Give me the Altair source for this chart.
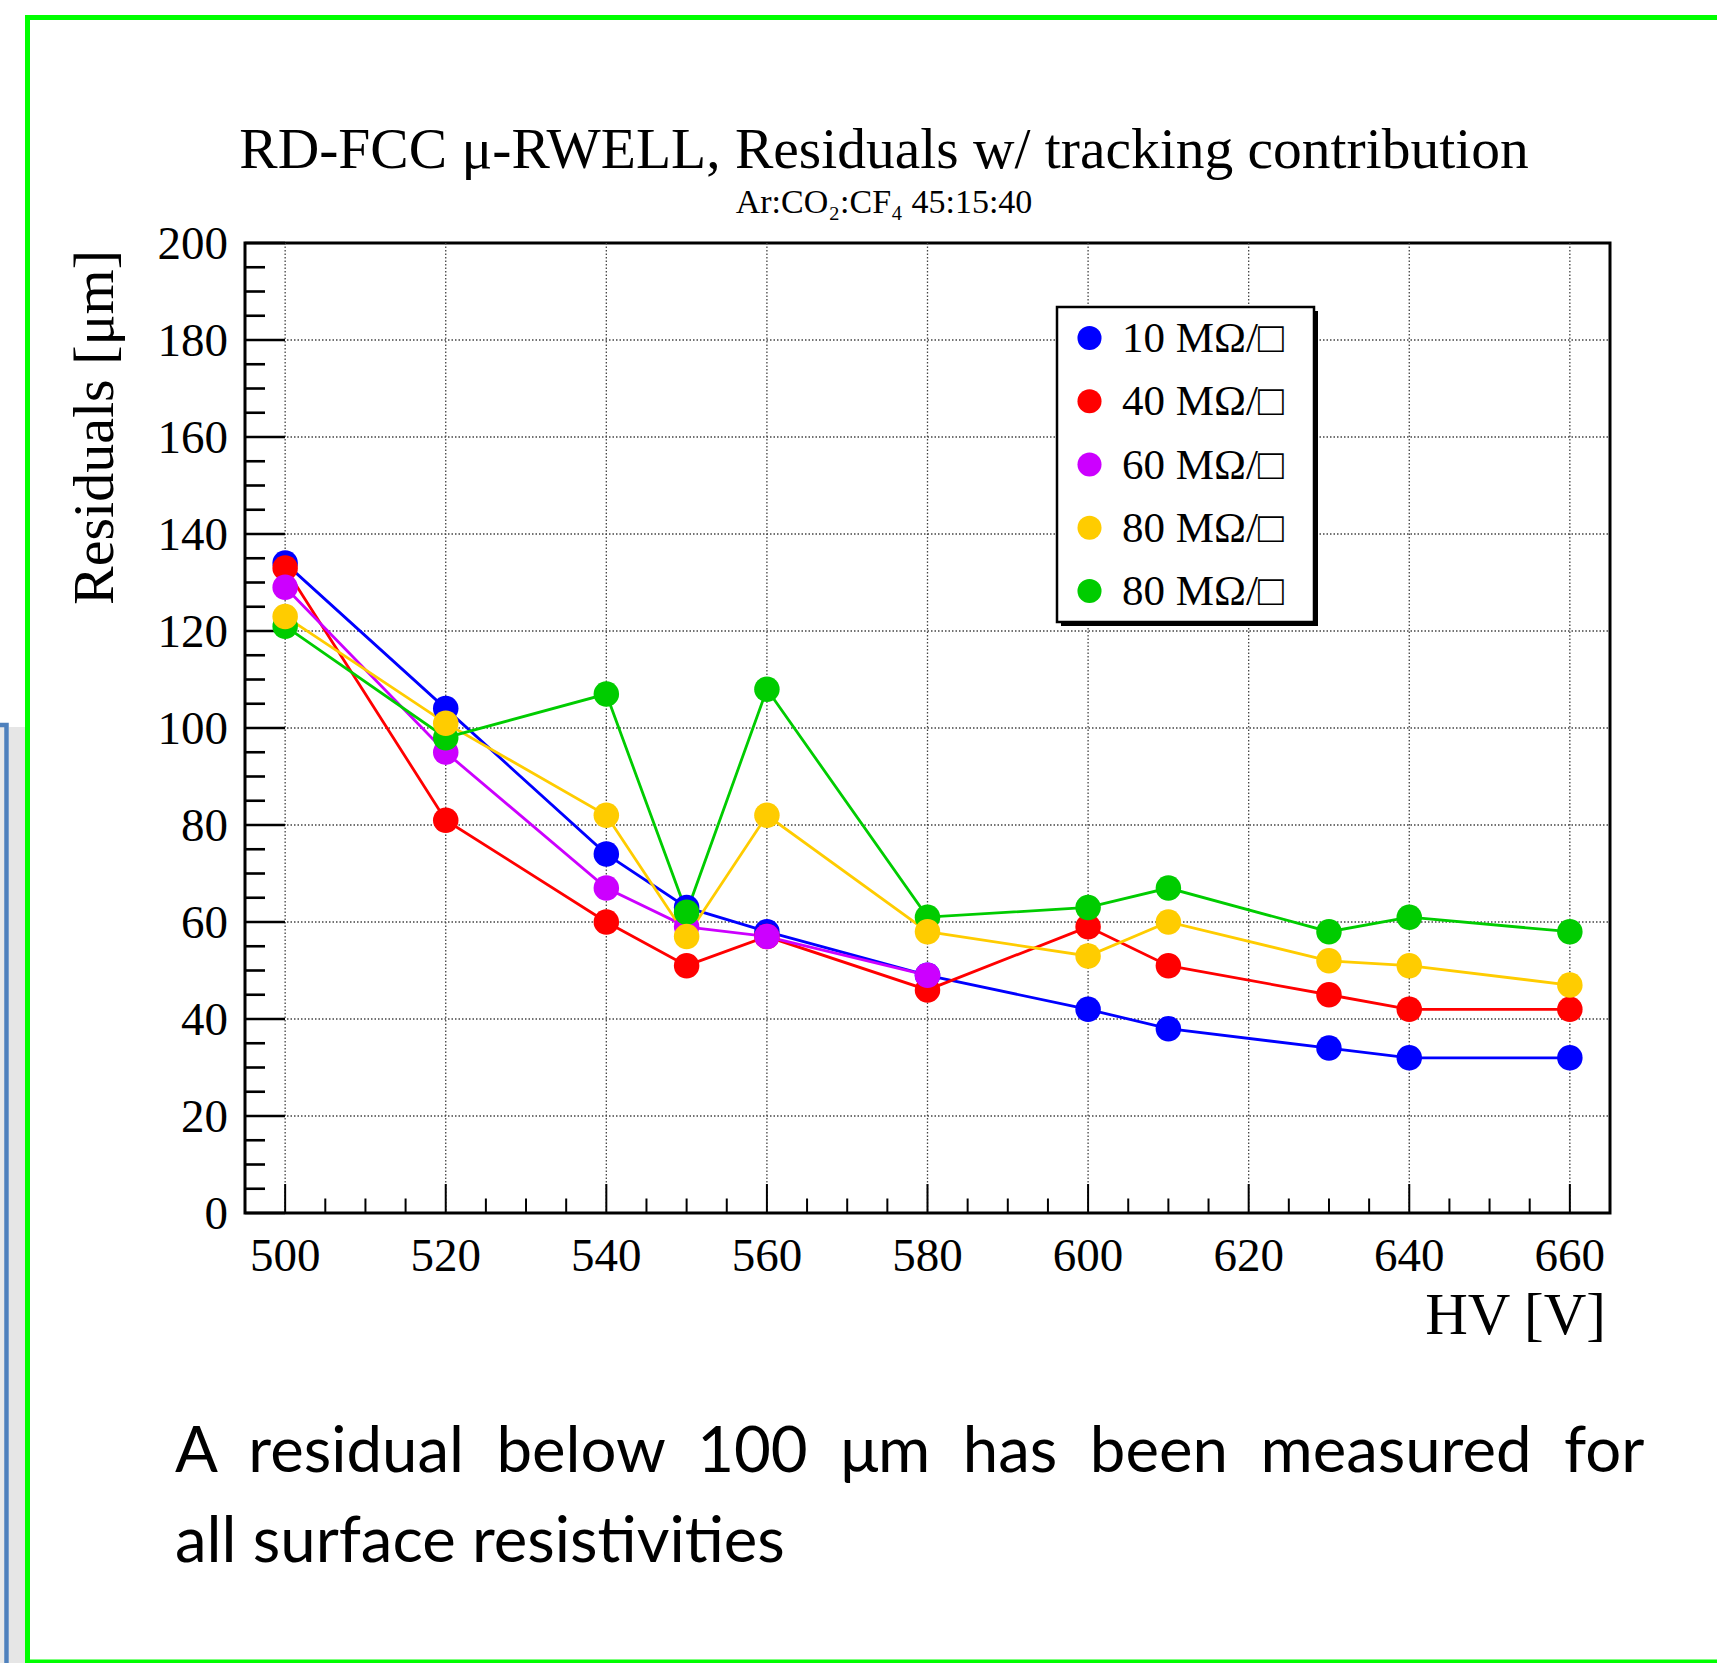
import altair as alt
import pandas as pd

# ---------------- data ----------------
hv_all = [500, 520, 540, 550, 560, 580, 600, 610, 630, 640, 660]
hv_60 = [500, 520, 540, 550, 560, 580]

res_10 = [134, 104, 74, 63, 58, 49, 42, 38, 34, 32, 32]
res_40 = [133, 81, 60, 51, 57, 46, 59, 51, 45, 42, 42]
res_60 = [129, 95, 67, 59, 57, 49]
res_80a = [123, 101, 82, 57, 82, 58, 53, 60, 52, 51, 47]
res_80b = [121, 98, 107, 62, 108, 61, 63, 67, 58, 61, 58]

series_keys = ["s10", "s40", "s60", "s80a", "s80b"]
legend_labels = ["10 MΩ/□", "40 MΩ/□", "60 MΩ/□", "80 MΩ/□", "80 MΩ/□"]
series_colors = ["#0000ff", "#ff0000", "#cc00ff", "#ffcc00", "#00cc00"]
draw_order = [0, 1, 2, 4, 3]  # ROOT draws graph by graph

y_ticks = list(range(0, 201, 20))
x_ticks = list(range(500, 661, 20))
y_grid = list(range(20, 181, 20))
y_minor = [v for v in range(0, 201, 5) if v % 20 != 0]
x_minor = [v for v in range(500, 661, 5) if v % 20 != 0]

title_text = "RD-FCC μ-RWELL, Residuals w/ tracking contribution"
subtitle_text = "Ar:CO₂:CF₄ 45:15:40"
ytitle_text = "Residuals [μm]"
xtitle_text = "HV [V]"
note_line1 = "A\u00a0\u00a0residual\u00a0\u00a0below\u00a0\u00a0100\u00a0\u00a0μm\u00a0\u00a0has\u00a0\u00a0been\u00a0\u00a0measured\u00a0\u00a0for"
note_line2 = "all surface resistivities"

# ---------------- build tables ----------------
rows = []
for key, xs, ys in [
    (series_keys[0], hv_all, res_10),
    (series_keys[1], hv_all, res_40),
    (series_keys[2], hv_60, res_60),
    (series_keys[3], hv_all, res_80a),
    (series_keys[4], hv_all, res_80b),
]:
    o = draw_order[series_keys.index(key)]
    for x, y in zip(xs, ys):
        rows.append({"hv": x, "res": y, "series": key, "ord": o})
df = pd.DataFrame(rows)

legend_df = pd.DataFrame({"row": list(range(len(series_keys))),
                          "series": series_keys, "label": legend_labels})

W, H = 1365, 970
SERIF = "Liberation Serif"
ox, oy = 245, 243  # plot origin inside the page

xscale = alt.Scale(domain=[495, 665], nice=False, zero=False, range=[0, W])
yscale = alt.Scale(domain=[0, 200], nice=False, zero=False, range=[H, 0])
cscale = alt.Scale(domain=series_keys, range=series_colors)
rowscale = alt.Scale(domain=[0, 4], range=[338 - oy, 591 - oy], nice=False, zero=False)

one = lambda: pd.DataFrame({"d": [0]})


def deco_rect(x, x2, y, y2, **kw):
    return alt.Chart(one()).mark_rect(**kw).encode(
        x=alt.value(x), x2=alt.value(x2), y=alt.value(y), y2=alt.value(y2))


gray_strip = deco_rect(9 - ox, 25 - ox, 727 - oy, 1700 - oy, fill="#e6e6e6")
blue_box = deco_rect(-60 - ox, 6.5 - ox, 725 - oy, 1720 - oy,
                     fill="#e9e9e9", stroke="#4f81bd", strokeWidth=4.5)
green_frame = deco_rect(27.5 - ox, 1760 - ox, 17.5 - oy, 1662 - oy,
                        fillOpacity=0, stroke="#00ff00", strokeWidth=5)
legend_shadow = deco_rect(1061 - ox, 1318 - ox, 311 - oy, 626 - oy, fill="black")
legend_box = deco_rect(1057 - ox, 1314 - ox, 307 - oy, 622 - oy,
                       fill="white", stroke="black", strokeWidth=2.5)


def text_layer(txt, x, y, size, font=SERIF, align="center", angle=0, baseline="alphabetic"):
    return alt.Chart(pd.DataFrame({"t": [txt]})).mark_text(
        font=font, fontSize=size, align=align, baseline=baseline, angle=angle, color="black"
    ).encode(x=alt.value(x), y=alt.value(y), text="t:N")


title_l = text_layer(title_text, 884 - ox, 168 - oy, 57.5)
subtitle_l = text_layer(subtitle_text, 884 - ox, 213 - oy, 34)
ytitle_l = text_layer(ytitle_text, 113 - ox, 250 - oy, 58, align="right", angle=270)
xtitle_l = text_layer(xtitle_text, 1606 - ox, 1334 - oy, 59, align="right")
note1_l = text_layer(note_line1, 175 - ox, 1472 - oy, 63.5, font="Lato", align="left")
note2_l = text_layer(note_line2, 175 - ox, 1562 - oy, 63.5, font="Lato", align="left")

# grid (dotted)
xgrid = alt.Chart(pd.DataFrame({"v": x_ticks})).mark_rule(
    color="#444444", strokeDash=[1.5, 2], strokeWidth=1.3).encode(
    x=alt.X("v:Q", scale=xscale, axis=None), y=alt.value(0), y2=alt.value(H))
ygrid = alt.Chart(pd.DataFrame({"v": y_grid})).mark_rule(
    color="#444444", strokeDash=[1.5, 2], strokeWidth=1.3).encode(
    y=alt.Y("v:Q", scale=yscale, axis=None), x=alt.value(0), x2=alt.value(W))

# tick labels
xlabels = alt.Chart(pd.DataFrame({"v": x_ticks})).mark_text(
    font=SERIF, fontSize=47, color="black", align="center", baseline="alphabetic").encode(
    x=alt.X("v:Q", scale=xscale, axis=None), y=alt.value(1271 - oy),
    text=alt.Text("v:Q", format="d"))
ylabels = alt.Chart(pd.DataFrame({"v": y_ticks})).mark_text(
    font=SERIF, fontSize=47, color="black", align="right", baseline="alphabetic", dy=16).encode(
    y=alt.Y("v:Q", scale=yscale, axis=None), x=alt.value(228 - ox),
    text=alt.Text("v:Q", format="d"))


# inward ticks
def yticks_layer(vals, length):
    return alt.Chart(pd.DataFrame({"v": vals})).mark_rule(color="black", strokeWidth=2.6).encode(
        y=alt.Y("v:Q", scale=yscale, axis=None), x=alt.value(0), x2=alt.value(length))


def xticks_layer(vals, length):
    return alt.Chart(pd.DataFrame({"v": vals})).mark_rule(color="black", strokeWidth=2).encode(
        x=alt.X("v:Q", scale=xscale, axis=None), y=alt.value(H), y2=alt.value(H - length))


lines = alt.Chart(df).mark_line(strokeWidth=2.8).encode(
    x=alt.X("hv:Q", scale=xscale, axis=None),
    y=alt.Y("res:Q", scale=yscale, axis=None),
    color=alt.Color("series:N", scale=cscale, legend=None),
    detail="series:N",
)

points = alt.Chart(df).mark_circle(size=650, opacity=1).encode(
    x=alt.X("hv:Q", scale=xscale, axis=None),
    y=alt.Y("res:Q", scale=yscale, axis=None),
    color=alt.Color("series:N", scale=cscale, legend=None),
    order=alt.Order("ord:Q"),
)

# legend drawn from the series table
leg_sym = alt.Chart(legend_df).mark_circle(size=580, opacity=1).encode(
    x=alt.value(1089.5 - ox),
    y=alt.Y("row:Q", scale=rowscale, axis=None),
    color=alt.Color("series:N", scale=cscale, legend=None),
)
leg_txt = alt.Chart(legend_df).mark_text(
    font=SERIF, fontSize=43, color="black", align="left", baseline="middle", dy=1).encode(
    x=alt.value(1122 - ox),
    y=alt.Y("row:Q", scale=rowscale, axis=None),
    text="label:N",
)

chart = alt.layer(
    green_frame, gray_strip, blue_box,
    title_l, subtitle_l, ytitle_l, xtitle_l, note1_l, note2_l,
    xgrid, ygrid, xlabels, ylabels,
    yticks_layer(y_ticks, 40), yticks_layer(y_minor, 20),
    xticks_layer(x_ticks, 29), xticks_layer(x_minor, 14.5),
    lines, points,
    legend_shadow, legend_box, leg_sym, leg_txt,
).resolve_scale(
    x="independent", y="independent"
).properties(
    width=W, height=H,
    autosize=alt.AutoSizeParams(type="none"),
    padding={"left": ox, "top": oy, "right": 1717 - ox - W, "bottom": 1663 - oy - H},
    background="white",
).configure_view(
    stroke="black", strokeWidth=3, fill="white"
)

chart.save("out.html", embed_options={"renderer": "svg", "actions": False})
